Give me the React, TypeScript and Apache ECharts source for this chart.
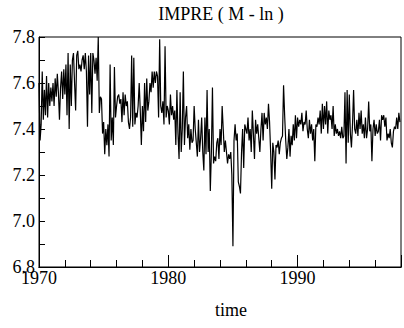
import React, { useEffect, useRef } from "react";
import * as echarts from "echarts";

const TITLE = "IMPRE ( M - ln )";
const X_NAME = "time";
const START_YEAR = 1970;
const END_YEAR = 1998;
const Y_MIN = 6.8;
const Y_MAX = 7.8;

// monthly values, Jan 1970 .. Dec 1979
const v1970s = [
  7.60, 7.35, 7.42, 7.65, 7.44, 7.57, 7.46, 7.63, 7.45, 7.60, 7.50, 7.58,
  7.52, 7.60, 7.50, 7.62, 7.54, 7.64, 7.56, 7.44, 7.58, 7.65, 7.53, 7.66,
  7.55, 7.68, 7.46, 7.73, 7.40, 7.68, 7.50, 7.70, 7.73, 7.60, 7.48, 7.72,
  7.74, 7.66, 7.68, 7.65, 7.70, 7.72, 7.66, 7.73, 7.65, 7.41, 7.72, 7.55,
  7.73, 7.47, 7.73, 7.70, 7.64, 7.71, 7.61, 7.80, 7.47, 7.54, 7.53, 7.38,
  7.43, 7.29, 7.40, 7.33, 7.42, 7.28, 7.68, 7.35, 7.45, 7.33, 7.67, 7.45,
  7.50, 7.54, 7.55, 7.51, 7.53, 7.43, 7.56, 7.46, 7.55, 7.50, 7.52, 7.43,
  7.40, 7.45, 7.72, 7.41, 7.71, 7.42, 7.47, 7.45, 7.50, 7.60, 7.48, 7.33,
  7.50, 7.39, 7.60, 7.43, 7.62, 7.48, 7.52, 7.60, 7.56, 7.65, 7.58, 7.65,
  7.60, 7.65, 7.63, 7.45, 7.79, 7.50, 7.47, 7.52, 7.42, 7.76, 7.45, 7.50,
];

// monthly values, Jan 1980 .. Dec 1989
const v1980s = [
  7.48, 7.42, 7.55, 7.46, 7.50, 7.44, 7.48, 7.33, 7.57, 7.38, 7.27, 7.56,
  7.30, 7.40, 7.65, 7.33, 7.45, 7.50, 7.36, 7.42, 7.31, 7.40, 7.34, 7.35,
  7.50, 7.40, 7.34, 7.28, 7.44, 7.30, 7.36, 7.45, 7.30, 7.22, 7.45, 7.29,
  7.57, 7.30, 7.40, 7.13, 7.30, 7.58, 7.25, 7.28, 7.26, 7.34, 7.36, 7.27,
  7.40, 7.33, 7.50, 7.40, 7.30, 7.35, 7.30, 7.25, 7.29, 7.27, 7.30, 7.20,
  6.89, 7.35, 7.42, 7.35, 7.38, 7.17, 7.15, 7.12, 7.30, 7.40, 7.23, 7.42,
  7.40, 7.38, 7.45, 7.35, 7.40, 7.30, 7.48, 7.38, 7.27, 7.44, 7.38, 7.42,
  7.36, 7.30, 7.40, 7.47, 7.35, 7.47, 7.42, 7.45, 7.40, 7.51, 7.43, 7.30,
  7.14, 7.34, 7.30, 7.18, 7.33, 7.32, 7.35, 7.29, 7.34, 7.36, 7.37, 7.59,
  7.46, 7.35, 7.27, 7.32, 7.40, 7.28, 7.37, 7.33, 7.42, 7.35, 7.46, 7.36,
];

// monthly values, Jan 1990 .. Dec 1997
const v1990s = [
  7.45, 7.41, 7.44, 7.42, 7.47, 7.39, 7.43, 7.42, 7.48, 7.40, 7.36, 7.44,
  7.38, 7.42, 7.35, 7.40, 7.26, 7.42, 7.41, 7.45, 7.42, 7.48, 7.38, 7.51,
  7.40, 7.50, 7.42, 7.52, 7.38, 7.48, 7.44, 7.46, 7.40, 7.50, 7.37, 7.42,
  7.38, 7.40, 7.37, 7.39, 7.36, 7.41, 7.36, 7.37, 7.56, 7.25, 7.57, 7.34,
  7.55, 7.38, 7.32, 7.42, 7.57, 7.40, 7.38, 7.44, 7.37, 7.47, 7.40, 7.48,
  7.38, 7.42, 7.36, 7.45, 7.36, 7.40, 7.52, 7.39, 7.42, 7.26, 7.40, 7.44,
  7.37, 7.42, 7.38, 7.39, 7.44, 7.35, 7.46, 7.44, 7.46, 7.41, 7.45, 7.35,
  7.38, 7.36, 7.40, 7.34, 7.32, 7.39, 7.41, 7.40, 7.45, 7.40, 7.47, 7.43,
];

const FONT = "Liberation Serif";

export default function App() {
  const ref = useRef<HTMLDivElement>(null);

  useEffect(() => {
    if (!ref.current) return;
    const chart = echarts.init(ref.current, undefined, { renderer: "svg" });
    const values = [...v1970s, ...v1980s, ...v1990s];
    const data = values.map((v, i) => [START_YEAR + i / 12, v]);

    chart.setOption({
      animation: false,
      backgroundColor: "#fff",
      textStyle: { fontFamily: FONT },
      grid: {
        left: 39,
        right: 1,
        top: 37,
        bottom: 61,
        show: true,
        borderColor: "#000",
        borderWidth: 1,
        backgroundColor: "transparent",
      },
      graphic: [
        {
          type: "text",
          x: 221,
          y: 14,
          style: {
            text: TITLE,
            fontSize: 18,
            fontFamily: FONT,
            fill: "#000",
            textAlign: "center",
            textVerticalAlign: "middle",
          },
        },
        {
          type: "text",
          x: 231,
          y: 310,
          style: {
            text: X_NAME,
            fontSize: 18,
            fontFamily: FONT,
            fill: "#000",
            textAlign: "center",
            textVerticalAlign: "middle",
          },
        },
      ],
      xAxis: [
        {
          type: "value",
          min: START_YEAR,
          max: END_YEAR,
          interval: 2,
          axisLine: { show: true, lineStyle: { color: "#000", width: 1 } },
          axisTick: { show: true, inside: true, length: 7, lineStyle: { color: "#000" } },
          axisLabel: { show: false },
          splitLine: { show: false },
        },
        {
          type: "value",
          position: "bottom",
          min: START_YEAR,
          max: END_YEAR,
          interval: 10,
          axisLine: { show: true, lineStyle: { color: "#000", width: 1 } },
          axisTick: { show: true, inside: true, length: 12, lineStyle: { color: "#000" } },
          axisLabel: {
            show: true,
            margin: 2,
            color: "#000",
            fontSize: 18,
            fontFamily: FONT,
            formatter: (v: number) => (Math.round(v) % 10 === 0 ? String(Math.round(v)) : ""),
          },
          splitLine: { show: false },
        },
      ],
      yAxis: {
        type: "value",
        min: Y_MIN,
        max: Y_MAX,
        interval: 0.2,
        axisLine: { show: true, lineStyle: { color: "#000", width: 1 } },
        axisTick: { show: true, inside: true, length: 6, lineStyle: { color: "#000" } },
        minorTick: { show: true, splitNumber: 2, length: 6, lineStyle: { color: "#000" } },
        axisLabel: {
          margin: 4,
          color: "#000",
          fontSize: 18,
          fontFamily: FONT,
          formatter: (v: number) => v.toFixed(1),
        },
        splitLine: { show: false },
      },
      series: [
        {
          type: "line",
          xAxisIndex: 0,
          data,
          showSymbol: false,
          symbol: "none",
          lineStyle: { color: "#000", width: 1.2 },
        },
      ],
    });

    return () => chart.dispose();
  }, []);

  return (
    <div
      ref={ref}
      style={{ position: "fixed", left: 0, top: 0, width: 404, height: 328 }}
    />
  );
}
